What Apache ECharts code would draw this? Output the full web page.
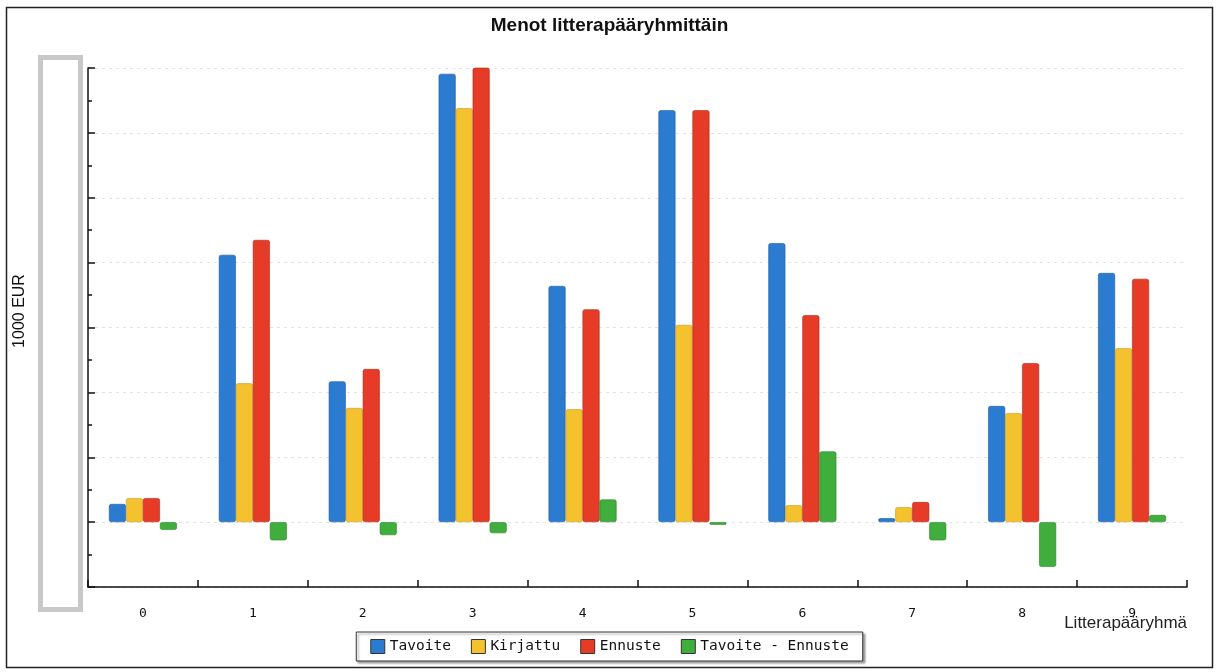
<!DOCTYPE html>
<html>
<head>
<meta charset="utf-8">
<title>Menot litterapääryhmittäin</title>
<script src="https://cdn.jsdelivr.net/npm/echarts@6/dist/echarts.min.js"></script>
<style>
  html, body { margin: 0; padding: 0; background: #ffffff; }
  #chart { width: 1219px; height: 672px; }
</style>
</head>
<body>
<div id="chart"></div>
<script>
// Category labels (litterapääryhmät)
const categories = ['0', '1', '2', '3', '4', '5', '6', '7', '8', '9'];

// Series values, 1000 EUR
const tavoite   = [280, 4120, 2170, 6910, 3640, 6350, 4300,   60, 1790, 3840];
const kirjattu  = [370, 2140, 1760, 6380, 1740, 3040,  260,  230, 1680, 2680];
const ennuste   = [370, 4350, 2360, 7020, 3280, 6350, 3190,  310, 2450, 3750];
const erotus    = [-120, -280, -200, -170, 350, -40, 1090, -280, -690, 110];

const seriesNames = ['Tavoite', 'Kirjattu', 'Ennuste', 'Tavoite - Ennuste'];
const seriesColors = ['#2b7bd1', '#f4c12f', '#e63b26', '#3fae3d'];
const seriesBorders = ['#1d5aa0', '#c99a1c', '#a82a1a', '#2b7f2a'];

const chart = echarts.init(document.getElementById('chart'), null, { renderer: 'canvas' });

function barSeries(name, data, i) {
  return {
    name: name,
    type: 'bar',
    data: data,
    barWidth: 17,
    barGap: '0%',
    itemStyle: {
      color: seriesColors[i],
      borderColor: seriesBorders[i],
      borderWidth: 0.6,
      borderRadius: 2
    }
  };
}

chart.setOption({
  animation: false,
  backgroundColor: '#ffffff',
  title: {
    text: 'Menot litterapääryhmittäin',
    left: 'center',
    top: 11,
    textStyle: { fontFamily: 'Liberation Sans, Arial', fontSize: 19, fontWeight: 'bold', color: '#111' }
  },
  legend: {
    data: seriesNames,
    left: 'center',
    top: 632,
    itemWidth: 14,
    itemHeight: 14,
    itemGap: 20,
    padding: [7, 14, 7, 14],
    borderColor: '#333',
    borderWidth: 1,
    shadowColor: 'rgba(0,0,0,0.35)',
    shadowOffsetX: 2,
    shadowOffsetY: 2,
    shadowBlur: 2,
    backgroundColor: '#fff',
    icon: 'rect',
    itemStyle: { borderColor: '#333', borderWidth: 1 },
    textStyle: { fontFamily: 'DejaVu Sans Mono, monospace', fontSize: 14.5, color: '#111' }
  },
  grid: { left: 88, right: 32, top: 68, bottom: 85 },
  xAxis: {
    type: 'category',
    data: categories,
    boundaryGap: true,
    axisLine: { onZero: false, lineStyle: { color: '#111', width: 1.5 } },
    axisTick: { show: true, inside: true, length: 7, lineStyle: { color: '#111', width: 1.5 } },
    axisLabel: { margin: 20, fontFamily: 'DejaVu Sans Mono, monospace', fontSize: 13, color: '#111' },
    splitLine: { show: false }
  },
  yAxis: {
    type: 'value',
    min: -1000,
    max: 7000,
    interval: 1000,
    axisLine: { show: true, lineStyle: { color: '#111', width: 1.5 } },
    axisTick: { show: true, inside: true, length: 7, lineStyle: { color: '#111', width: 1.5 } },
    minorTick: { show: true, splitNumber: 2, length: 4, lineStyle: { color: '#111', width: 1.5 } },
    axisLabel: { show: false },
    splitLine: { show: true, lineStyle: { color: '#e2e2e2', type: [3, 4], width: 1 } }
  },
  series: [
    barSeries(seriesNames[0], tavoite, 0),
    barSeries(seriesNames[1], kirjattu, 1),
    barSeries(seriesNames[2], ennuste, 2),
    barSeries(seriesNames[3], erotus, 3)
  ],
  graphic: [
    {
      type: 'rect',
      silent: true,
      shape: { x: 6.5, y: 7.5, width: 1206, height: 660 },
      style: { fill: 'none', stroke: '#222', lineWidth: 1.5 },
      z: 0
    },
    {
      type: 'rect',
      silent: true,
      shape: { x: 40.5, y: 57.5, width: 40, height: 552 },
      style: { fill: '#ffffff', stroke: '#c8c8c8', lineWidth: 5 },
      z: 10
    },
    {
      type: 'text',
      silent: true,
      x: 20,
      y: 311,
      rotation: Math.PI / 2,
      style: {
        text: '1000 EUR',
        font: '16px "Liberation Sans", Arial',
        fill: '#111',
        align: 'center',
        verticalAlign: 'middle'
      },
      z: 10
    },
    {
      type: 'text',
      silent: true,
      right: 32,
      top: 615,
      style: { text: 'Litterapääryhmä', font: '17px "Liberation Sans", Arial', fill: '#222' },
      z: 10
    }
  ]
});
</script>
</body>
</html>
